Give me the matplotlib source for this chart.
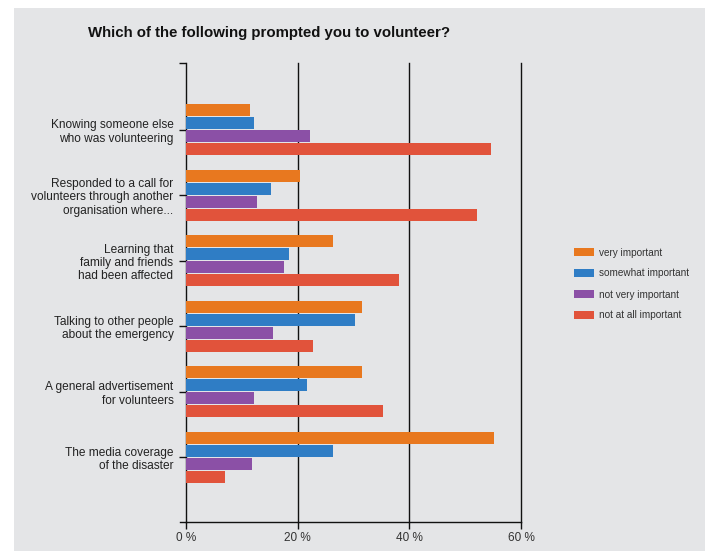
import matplotlib.pyplot as plt
from matplotlib.patches import Rectangle

plt.rcParams["font.family"] = ["Liberation Sans", "DejaVu Sans"]

reasons = [
    "Knowing someone else\nwho was volunteering",
    "Responded to a call for\nvolunteers through another\norganisation where...",
    "Learning that\nfamily and friends\nhad been affected",
    "Talking to other people\nabout the emergency",
    "A general advertisement\nfor volunteers",
    "The media coverage\nof the disaster",
]
levels = ["very important", "somewhat important", "not very important", "not at all important"]
very_important = [11.5, 20.4, 26.3, 31.6, 31.6, 55.2]
somewhat_important = [12.2, 15.3, 18.5, 30.3, 21.6, 26.3]
not_very_important = [22.2, 12.7, 17.5, 15.5, 12.1, 11.9]
not_at_all_important = [54.6, 52.1, 38.1, 22.8, 35.2, 7.0]
x_ticks = [0, 20, 40, 60]
x_tick_labels = ["0 %", "20 %", "40 %", "60 %"]

colors = ["#E8781F", "#2F7DC5", "#8B50A6", "#E1533B"]
bg = "#E4E5E7"

fig = plt.figure(figsize=(7.05, 5.51), dpi=100)
fig.patch.set_facecolor("white")
fig.patches.append(Rectangle((14 / 705, 0), 1, 1 - 8 / 551, transform=fig.transFigure,
                             facecolor=bg, edgecolor="none", zorder=-10))

ax = fig.add_axes([186 / 705, 1 - 522 / 551, 335 / 705, 459 / 551])
ax.set_facecolor(bg)

pitch = 0.199
bar_h = 0.185
series = [very_important, somewhat_important, not_very_important, not_at_all_important]
for k, (vals, col, lab) in enumerate(zip(series, colors, levels)):
    ys = [i + (k - 1.5) * pitch for i in range(len(reasons))]
    ax.barh(ys, vals, height=bar_h, color=col, label=lab, zorder=3, edgecolor="none")

ax.set_xlim(0, 60)
ax.set_ylim(5.99, -1.02)

# vertical guides at 20/40/60 (the last one sits on the axes edge)
for x in x_ticks[1:]:
    ax.axvline(x, color="#111111", lw=1.0, zorder=2, clip_on=False)

ax.set_xticks(x_ticks)
ax.set_xticklabels(x_tick_labels, fontsize=8.5, color="#333333")
ax.set_yticks([-1.02] + list(range(len(reasons))))
ax.set_yticklabels([""] + reasons, fontsize=8.6, color="#222222", linespacing=1.15)
ax.tick_params(axis="both", length=5, width=1, color="#111111")
ax.tick_params(axis="y", pad=4)
ax.tick_params(axis="x", pad=2)

for side in ["top", "right"]:
    ax.spines[side].set_visible(False)
for side in ["left", "bottom"]:
    ax.spines[side].set_color("#111111")
    ax.spines[side].set_linewidth(1.0)
ax.plot([-1.1, 0], [5.99, 5.99], color="#111111", lw=1.0, clip_on=False)

fig.text(88 / 705, 1 - 33 / 551, "Which of the following prompted you to volunteer?",
         fontsize=10.8, fontweight="bold", color="#111111", va="center", ha="left")

handles, labels = ax.get_legend_handles_labels()
fig.legend(handles, labels, loc="center left", bbox_to_anchor=(565 / 705, 1 - 284 / 551),
           frameon=False, fontsize=7.2, handlelength=2.0, handleheight=0.8,
           handletextpad=0.5, labelspacing=1.1, labelcolor="#333333")

fig.savefig("out.png", dpi=100, facecolor=fig.get_facecolor())
